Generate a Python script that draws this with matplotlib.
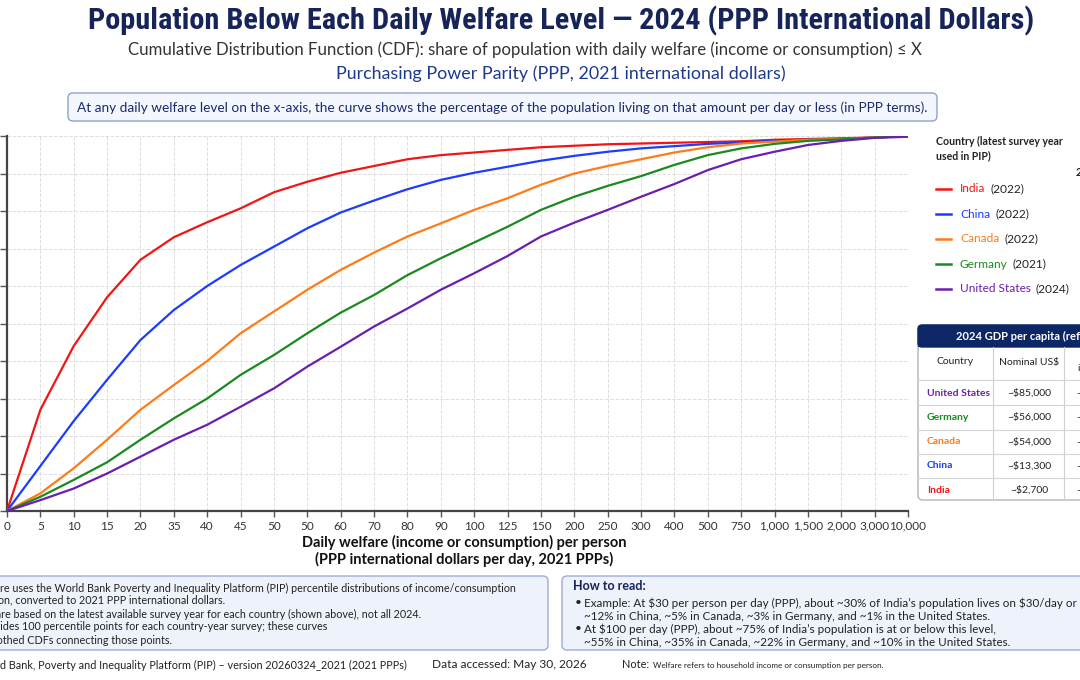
import matplotlib
matplotlib.use("Agg")
import matplotlib.pyplot as plt
from matplotlib import font_manager
from matplotlib.patches import FancyBboxPatch, Rectangle
from matplotlib.lines import Line2D

# daily welfare levels shown on the x axis (labels as printed on the chart)
x_labels = ["0", "5", "10", "15", "20", "35", "40", "45", "50", "50", "60", "70",
            "80", "90", "100", "125", "150", "200", "250", "300", "400", "500",
            "750", "1,000", "1,500", "2,000", "3,000", "10,000"]

# share of population (%) at or below each level
india = [0, 27, 44, 57, 67, 73, 77, 80.7, 85, 87.8, 90.2, 92, 93.8, 94.9, 95.6,
         96.3, 97, 97.4, 97.8, 98, 98.2, 98.4, 98.6, 99, 99.2, 99.4, 99.6, 100]
china = [0, 12, 24, 35, 45.6, 53.6, 60, 65.6, 70.5, 75.4, 79.6, 82.8, 85.8, 88.3,
         90.2, 91.8, 93.4, 94.7, 95.8, 96.7, 97.3, 97.9, 98.3, 98.7, 99, 99.2, 99.6, 100]
canada = [0, 4.7, 11.4, 19, 27, 33.6, 40, 47.4, 53.2, 59, 64.3, 68.9, 73.2, 76.7,
          80.3, 83.4, 87, 90, 92, 93.8, 95.6, 97, 98, 98.5, 99, 99.2, 99.6, 100]
germany = [0, 3.8, 8.3, 13, 19, 24.7, 30, 36.3, 41.6, 47.4, 52.9, 57.6, 62.9, 67.4,
           71.6, 75.8, 80.3, 83.8, 86.7, 89.3, 92.3, 94.9, 96.7, 97.9, 98.7, 99.1, 99.6, 100]
usa = [0, 2.9, 6, 10, 14.5, 19, 23, 27.8, 32.7, 38.5, 43.8, 49.2, 54, 59, 63.4,
       68, 73.2, 76.9, 80.3, 83.8, 87.2, 90.9, 93.8, 95.8, 97.6, 98.7, 99.5, 99.8]

countries = ["India", "China", "Canada", "Germany", "United States"]
survey_years = ["(2022)", "(2022)", "(2022)", "(2021)", "(2024)"]
series = [india, china, canada, germany, usa]
colors = ["#f21515", "#1c3cff", "#ff7b17", "#198a1e", "#6a1fae"]

# GDP reference table
table_countries = ["United States", "Germany", "Canada", "China", "India"]
table_colors = ["#6a1fae", "#198a1e", "#ff7b17", "#1c3cff", "#f21515"]
gdp_nominal = ["~$85,000", "~$56,000", "~$54,000", "~$13,300", "~$2,700"]
gdp_ppp = ["~$86,000", "~$72,000", "~$65,000", "~$27,000", "~$11,000"]

BODY = ["Lato", "DejaVu Sans"]
NAVY = "#17245a"

# a narrow bold face for the title, if one is installed
installed = {f.name for f in font_manager.fontManager.ttflist}
narrow = [n for n in ["Liberation Sans Narrow", "Roboto Condensed", "Open Sans Condensed",
                      "Noto Sans Condensed", "DejaVu Sans Condensed"] if n in installed]
TITLE = narrow[:1] + ["Roboto", "DejaVu Sans"]

plt.rcParams["font.family"] = BODY
plt.rcParams["text.parse_math"] = False

fig = plt.figure(figsize=(10.8, 6.8), dpi=100)
fig.patch.set_facecolor("white")
renderer = fig.canvas.get_renderer()

# overlay in pixel coordinates (y from top) for the text blocks and boxes
ov = fig.add_axes([0, 0, 1, 1], zorder=0)
ov.set_xlim(0, 1080)
ov.set_ylim(680, 0)
ov.axis("off")


def fit_width(txt, width):
    w = txt.get_window_extent(renderer=renderer).width
    txt.set_fontsize(txt.get_fontsize() * width / w)


title = ov.text(561, 21, "Population Below Each Daily Welfare Level \u2014 2024 (PPP International Dollars)",
                ha="center", va="center", fontsize=24, fontweight="bold", color=NAVY,
                family=TITLE, fontstretch="condensed")
fit_width(title, 947)
sub = ov.text(525, 50, "Cumulative Distribution Function (CDF): share of population with daily welfare "
              "(income or consumption) \u2264 X", ha="center", va="center", fontsize=11, color="#333333")
fit_width(sub, 790)
sub2 = ov.text(561, 74, "Purchasing Power Parity (PPP, 2021 international dollars)",
               ha="center", va="center", fontsize=11, color="#1d3a8c")
fit_width(sub2, 450)

ov.add_patch(FancyBboxPatch((68, 93), 869, 28, boxstyle="round,pad=0,rounding_size=5",
                            fc="#f4f7fd", ec="#8fa1d3", lw=1))
info = ov.text(502, 107.5, "At any daily welfare level on the x-axis, the curve shows the percentage of the "
               "population living on that amount per day or less (in PPP terms).",
               ha="center", va="center", fontsize=8.2, color="#1a2a6c")
fit_width(info, 845)

# main chart
ax = fig.add_axes([7 / 1080, 169 / 680, 901 / 1080, 375 / 680], zorder=2)
xpos = list(range(len(x_labels)))
for vals, col in zip(series, colors):
    ax.plot(xpos, vals, color=col, lw=1.6, zorder=3)

ax.set_xlim(0, len(x_labels) - 1)
ax.set_ylim(0, 100)
ax.set_xticks(xpos)
ax.set_xticklabels(x_labels, fontsize=8.5, color="#333333")
ax.set_yticks(range(0, 101, 10))
ax.set_yticklabels([f"{v}%" for v in range(0, 101, 10)], fontsize=8.5)
ax.tick_params(axis="x", length=4, width=1, color="#555555", pad=3)
ax.tick_params(axis="y", length=5, width=1, color="#555555")
ax.grid(True, color="#dedede", linestyle="--", linewidth=0.7, zorder=0)
for s in ["top", "right"]:
    ax.spines[s].set_visible(False)
for s in ["left", "bottom"]:
    ax.spines[s].set_color("#444444")
    ax.spines[s].set_linewidth(1.6)

ov.text(464, 542, "Daily welfare (income or consumption) per person", ha="center", va="center",
        fontsize=10.5, fontweight="bold", color="#111111")
ov.text(464, 559, "(PPP international dollars per day, 2021 PPPs)", ha="center", va="center",
        fontsize=10.5, fontweight="bold", color="#111111")

# legend drawn by hand so the country name and the year can have different colours
ov.text(936, 141, "Country (latest survey year", ha="left", va="center", fontsize=7.6,
        fontweight="bold", color="#222222")
ov.text(936, 156, "used in PIP)", ha="left", va="center", fontsize=7.6,
        fontweight="bold", color="#222222")
ov.text(1076, 172, "2024", ha="left", va="center", fontsize=8, fontweight="bold", color="#222222")
for i, (name, yr, col) in enumerate(zip(countries, survey_years, colors)):
    ly = 189 + i * 25
    ov.add_line(Line2D([936, 951], [ly, ly], color=col, lw=1.8))
    t = ov.text(960, ly, name, ha="left", va="center", fontsize=8.6, color=col)
    bb = t.get_window_extent(renderer=renderer)
    ov.text(bb.x1 + 5, ly, yr, ha="left", va="center", fontsize=8.6, color="#222222")

# GDP reference table
tx0, tx1 = 918, 1200
ov.add_patch(FancyBboxPatch((tx0, 325), tx1 - tx0, 175, boxstyle="round,pad=0,rounding_size=5",
                            fc="white", ec="#b5b5b5", lw=1))
ov.add_patch(FancyBboxPatch((tx0, 325), tx1 - tx0, 22, boxstyle="round,pad=0,rounding_size=4",
                            fc="#0d2766", ec="#0d2766", lw=1))
ov.add_patch(Rectangle((tx0, 338), tx1 - tx0, 9, fc="#0d2766", ec="none"))
ov.text(956, 336, "2024 GDP per capita (reference)", ha="left", va="center", fontsize=8,
        fontweight="bold", color="white")
for xv in [993, 1064]:
    ov.add_line(Line2D([xv, xv], [347, 500], color="#cfcfcf", lw=0.8))
for yv in [380, 405, 430, 454, 478]:
    ov.add_line(Line2D([tx0, tx1], [yv, yv], color="#d5d5d5", lw=0.8))
ov.text(955, 362, "Country", ha="center", va="center", fontsize=7.5, color="#222222")
ov.text(1029, 362, "Nominal US$", ha="center", va="center", fontsize=7.5, color="#222222")
ov.text(1093, 356, "PPP", ha="center", va="center", fontsize=7.5, color="#222222")
ov.text(1091, 369, "int'l $", ha="center", va="center", fontsize=7.5, color="#222222")
for i, (name, col, nom, ppp) in enumerate(zip(table_countries, table_colors, gdp_nominal, gdp_ppp)):
    ry = 393 + i * 24.3
    ov.text(927, ry, name, ha="left", va="center", fontsize=7.5, fontweight="bold", color=col)
    ov.text(1029, ry, nom, ha="center", va="center", fontsize=7.5, color="#222222")
    ov.text(1098, ry, ppp, ha="center", va="center", fontsize=7.5, color="#222222")

# notes box (left) - it runs past the left edge of the picture
ov.add_patch(FancyBboxPatch((-20, 576), 568, 74, boxstyle="round,pad=0,rounding_size=5",
                            fc="#eef2fa", ec="#9badd8", lw=1))
note_lines = [
    ("\u2022 This figure uses the World Bank Poverty and Inequality Platform (PIP) percentile "
     "distributions of income/consumption", 588),
    ("   per person, converted to 2021 PPP international dollars.", 600),
    ("\u2022 Curves are based on the latest available survey year for each country "
     "(shown above), not all 2024.", 614),
    ("\u2022 PIP provides 100 percentile points for each country-year survey; these curves", 627),
    ("   are smoothed CDFs connecting those points.", 640),
]
NOTE_FS = 7.75
probe = ov.text(0, 0, "\u2022 This figu", fontsize=NOTE_FS)
shift = probe.get_window_extent(renderer=renderer).width
probe.remove()
for txt, ly in note_lines:
    ov.text(-shift, ly, txt, ha="left", va="center", fontsize=NOTE_FS, color="#222222")

# how to read box (right)
ov.add_patch(FancyBboxPatch((562, 576), 540, 74, boxstyle="round,pad=0,rounding_size=5",
                            fc="#eef2fa", ec="#9badd8", lw=1))
ov.text(573, 586, "How to read:", ha="left", va="center", fontsize=9, fontweight="bold", color=NAVY)
read_lines = [
    ("\u2022", "Example: At $30 per person per day (PPP), about ~30% of India\u2019s population "
     "lives on $30/day or less;", 603),
    ("", "~12% in China, ~5% in Canada, ~3% in Germany, and ~1% in the United States.", 616),
    ("\u2022", "At $100 per day (PPP), about ~75% of India\u2019s population is at or below this level,", 629),
    ("", "~55% in China, ~35% in Canada, ~22% in Germany, and ~10% in the United States.", 642),
]
for bullet, txt, ly in read_lines:
    if bullet:
        ov.text(575, ly, bullet, ha="left", va="center", fontsize=8.4, color="#222222")
    ov.text(584, ly, txt, ha="left", va="center", fontsize=8.4, color="#222222")

# footer
probe = ov.text(0, 0, "Source: Worl", fontsize=7.8)
shift = probe.get_window_extent(renderer=renderer).width
probe.remove()
ov.text(-shift, 665, "Source: World Bank, Poverty and Inequality Platform (PIP) \u2013 version "
        "20260324_2021 (2021 PPPs)", ha="left", va="center", fontsize=7.8, color="#222222")
ov.text(432, 665, "Data accessed: May 30, 2026", ha="left", va="center", fontsize=8.6, color="#222222")
t = ov.text(622, 665, "Note:", ha="left", va="center", fontsize=7.8, color="#222222")
bb = t.get_window_extent(renderer=renderer)
ov.text(bb.x1 + 4, 665.5, "Welfare refers to household income or consumption per person.",
        ha="left", va="center", fontsize=5.9, color="#222222")

fig.savefig("out.png", dpi=100)
